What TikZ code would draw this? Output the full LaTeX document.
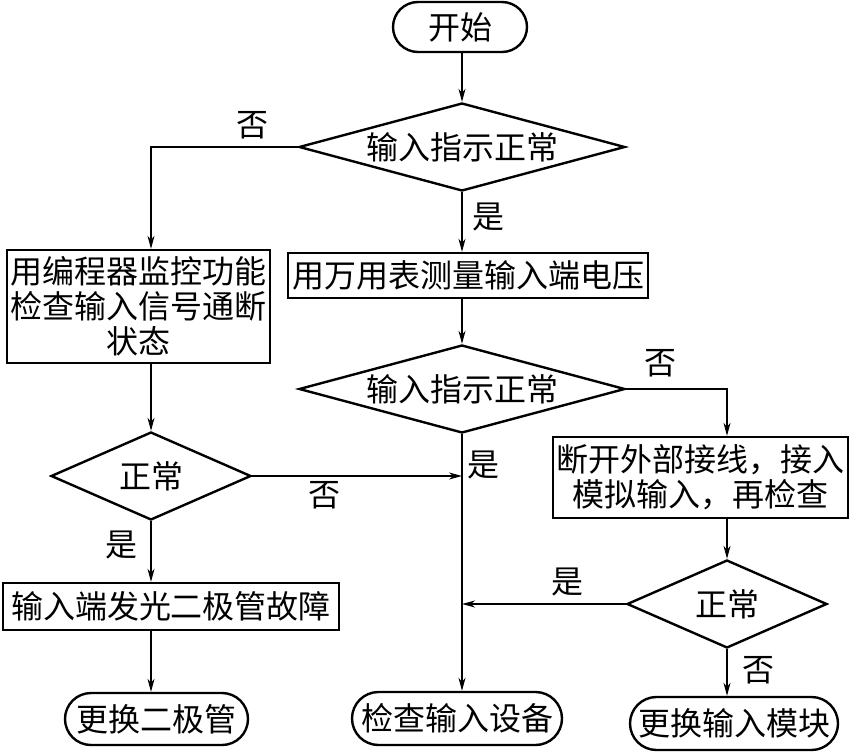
\documentclass[tikz,border=0pt]{standalone}
\usepackage{fontspec}
\newfontfamily\cjk{Noto Sans CJK SC}
\usetikzlibrary{shapes.geometric,shapes.misc,arrows.meta}
\begin{document}
\begin{tikzpicture}[x=1pt,y=-1pt,
  txt/.style={font=\cjk\fontsize{32}{35}\selectfont},
  box/.style={txt,draw,line width=2.4pt,inner sep=0pt,align=center},
  dec/.style={txt,draw,diamond,line width=2.4pt,inner sep=0pt},
  term/.style={txt,draw,rounded rectangle,line width=2.4pt,inner sep=0pt},
  conn/.style={line width=1.2pt,-{Stealth[length=13pt,width=7pt,inset=4pt]}},
  lbl/.style={txt,inner sep=0pt}]
\fill[white] (0,0) rectangle (851,752);
\useasboundingbox (0,0) rectangle (851,752);

\node[term,minimum width=134pt,minimum height=50pt] (start) at (460,27) {开始};
\node[dec,minimum width=326pt,minimum height=88pt,aspect=3.7] (d1) at (462,147) {输入指示正常};
\node[box,minimum width=263pt,minimum height=113pt] (bL) at (138.5,306.5) {用编程器监控功能\\检查输入信号通断\\状态};
\node[box,minimum width=360pt,minimum height=45pt] (b2) at (468,275.5) {用万用表测量输入端电压};
\node[dec,minimum width=326pt,minimum height=88pt,aspect=3.7] (d2) at (462,389) {输入指示正常};
\node[box,minimum width=295pt,minimum height=81pt] (bR) at (700.5,477.5) {断开外部接线，接入\\模拟输入，再检查};
\node[dec,minimum width=200pt,minimum height=88pt,aspect=2.27] (dL) at (151,476) {正常};
\node[dec,minimum width=200pt,minimum height=88pt,aspect=2.27] (dR) at (727,604) {正常};
\node[box,minimum width=336pt,minimum height=47pt] (bL2) at (171,606.5) {输入端发光二极管故障};
\node[term,minimum width=183pt,minimum height=52pt] (eL) at (156.5,719) {更换二极管};
\node[term,minimum width=210pt,minimum height=53pt] (eM) at (457,718.5) {检查输入设备};
\node[term,minimum width=208pt,minimum height=53pt] (eR) at (734,723.5) {更换输入模块};

\draw[conn] (d1.north |- start.south) -- (d1.north);
\draw[conn] (d1.west) -| (dL.north |- bL.north);
\draw[conn] (d1.south) -- (d1.south |- b2.north);
\draw[conn] (d1.south |- b2.south) -- (d2.north);
\draw[conn] (d2.east) -| (dR.north |- bR.north);
\draw[conn] (d2.south) -- (d2.south |- eM.north);
\draw[conn] (dL.north |- bL.south) -- (dL.north);
\draw[conn] (dL.east) -- (dL.east -| d2.south);
\draw[conn] (dL.south) -- (dL.south |- bL2.north);
\draw[conn] (dL.south |- bL2.south) -- (dL.south |- eL.north);
\draw[conn] (dR.north |- bR.south) -- (dR.north);
\draw[conn] (dR.west) -- (dR.west -| d2.south);
\draw[conn] (dR.south) -- (dR.south |- eR.north);

\node[lbl] (l1) at (252,125) {否};
\node[lbl] (l2) at (488,217) {是};
\node[lbl] (l3) at (660,363) {否};
\node[lbl] (l4) at (483,465) {是};
\node[lbl] (l5) at (324,495) {否};
\node[lbl] (l6) at (121,545) {是};
\node[lbl] (l7) at (567,582) {是};
\node[lbl] (l8) at (758,670) {否};
\end{tikzpicture}
\end{document}
